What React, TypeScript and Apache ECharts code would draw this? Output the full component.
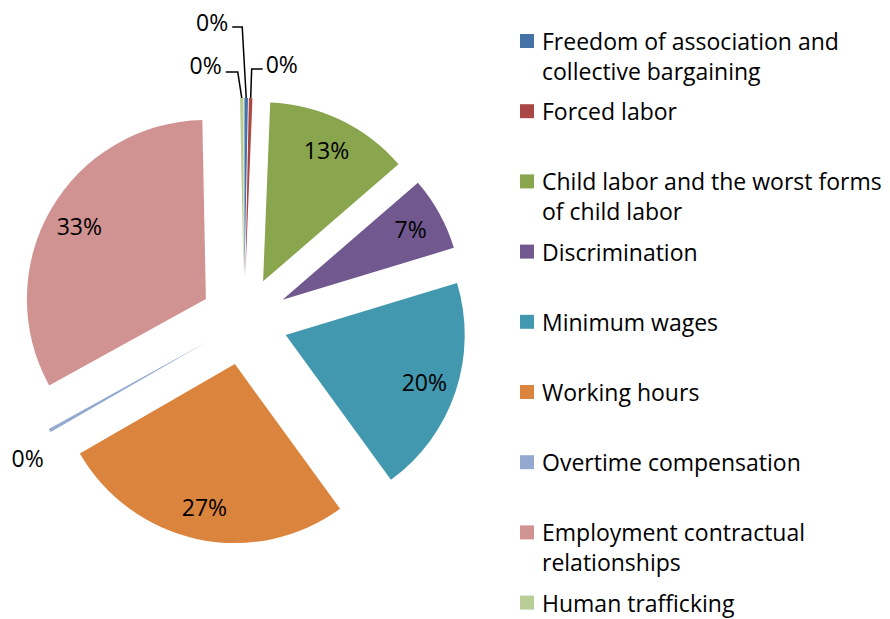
import React, { useEffect, useRef } from "react";
import * as echarts from "echarts";

const categories = [
  "Freedom of association and collective bargaining",
  "Forced labor",
  "Child labor and the worst forms of child labor",
  "Discrimination",
  "Minimum wages",
  "Working hours",
  "Overtime compensation",
  "Employment contractual relationships",
  "Human trafficking",
];
const legendLines = [
  ["Freedom of association and", "collective bargaining"],
  ["Forced labor"],
  ["Child labor and the worst forms", "of child labor"],
  ["Discrimination"],
  ["Minimum wages"],
  ["Working hours"],
  ["Overtime compensation"],
  ["Employment contractual", "relationships"],
  ["Human trafficking"],
];
const values = [1, 1, 41, 21, 62, 84, 1, 103, 1];
const colors = ["#4572A7", "#AA4643", "#89A54E", "#71588F", "#4198AF", "#DB843D", "#93A9CF", "#D19392", "#B9CD96"];

const FONT = "Open Sans";
const FS = 23;
const CENTER = [244, 321];
const R = 179;
const EXPLODE = 44;

// leader-line styling for the tiny slices, relative to the slice's outer point
const smallLabelLayout: Record<number, { elbow: number[]; end: number[]; label: number[]; align: string }> = {
  0: { elbow: [-4, -71], end: [-14, -71], label: [-18, -76], align: "right" },
  1: { elbow: [1, -29], end: [12, -29], label: [15, -34], align: "left" },
  8: { elbow: [-4, -26], end: [-16, -26], label: [-20, -33], align: "right" },
  6: { elbow: [0, 0], end: [0, 0], label: [-6, 27], align: "right" },
};

export default function App() {
  const ref = useRef<HTMLDivElement>(null);
  useEffect(() => {
    if (!ref.current) return;
    const chart = echarts.init(ref.current, undefined, { renderer: "svg" });
    const isSmall = (v: number) => v <= 1;
    const rich: any = {
      g: { width: 8 },
      s: { width: 22, height: 30, lineHeight: 30 },
      t: { fontFamily: FONT, fontSize: FS, color: "#000", lineHeight: 30 },
    };
    colors.forEach((c, i) => {
      rich["b" + i] = { width: 14, height: 14, backgroundColor: c, lineHeight: 30 };
    });
    const pct = (p: any) => Math.round(p.percent) + "%";
    const base = {
      type: "pie",
      center: CENTER,
      startAngle: 90,
      clockwise: true,
      avoidLabelOverlap: false,
      emphasis: { disabled: true },
    };
    const legends = categories.map((name, i) => ({
      orient: "vertical",
      left: 514,
      top: 29.5 + i * 70.2,
      padding: 0,
      icon: "none",
      itemWidth: 1,
      itemHeight: 14,
      selectedMode: false,
      data: [name],
      formatter: () => {
        const lines = legendLines[i];
        const first = `{b${i}|}{g|}{t|${lines[0]}}`;
        return lines[1] ? first + "\n" + `{s|}{t|${lines[1]}}` : first;
      },
      textStyle: { rich },
    }));
    chart.setOption({
      animation: false,
      legend: legends,
      series: [
        {
          ...base,
          radius: [0, R],
          selectedMode: "multiple",
          selectedOffset: EXPLODE,
          select: { itemStyle: {} },
          label: { show: false },
          labelLine: { show: false },
          data: categories.map((name, i) => ({
            name,
            value: values[i],
            selected: true,
            itemStyle: { color: colors[i] },
          })),
        },
        {
          ...base,
          radius: [EXPLODE + R * 0.6, EXPLODE + R],
          silent: true,
          itemStyle: { color: "rgba(0,0,0,0)" },
          label: {
            position: "inside",
            formatter: pct,
            fontFamily: FONT,
            fontSize: FS,
            color: "#000",
          },
          labelLine: { show: false },
          data: categories.map((name, i) => ({
            name,
            value: values[i],
            label: { show: !isSmall(values[i]) },
          })),
        },
        {
          ...base,
          radius: [0, EXPLODE + R],
          silent: true,
          itemStyle: { color: "rgba(0,0,0,0)" },
          label: {
            position: "outside",
            formatter: pct,
            fontFamily: FONT,
            fontSize: FS,
            color: "#000",
          },
          labelLine: { length: 20, length2: 10, lineStyle: { color: "#000", width: 1.5 } },
          data: categories.map((name, i) => ({
            name,
            value: values[i],
            label: { show: isSmall(values[i]) },
            labelLine: { show: isSmall(values[i]) },
          })),
          labelLayout: (p: any) => {
            const s = smallLabelLayout[p.dataIndex];
            if (!s || !p.labelLinePoints) return {};
            const [x0, y0] = p.labelLinePoints[0];
            return {
              x: x0 + s.label[0],
              y: y0 + s.label[1],
              align: s.align,
              verticalAlign: "middle",
              labelLinePoints: [
                [x0, y0],
                [x0 + s.elbow[0], y0 + s.elbow[1]],
                [x0 + s.end[0], y0 + s.end[1]],
              ],
            };
          },
        },
      ],
    });
    return () => chart.dispose();
  }, []);
  return <div ref={ref} style={{ position: "absolute", left: 0, top: 0, width: 890, height: 619 }} />;
}
